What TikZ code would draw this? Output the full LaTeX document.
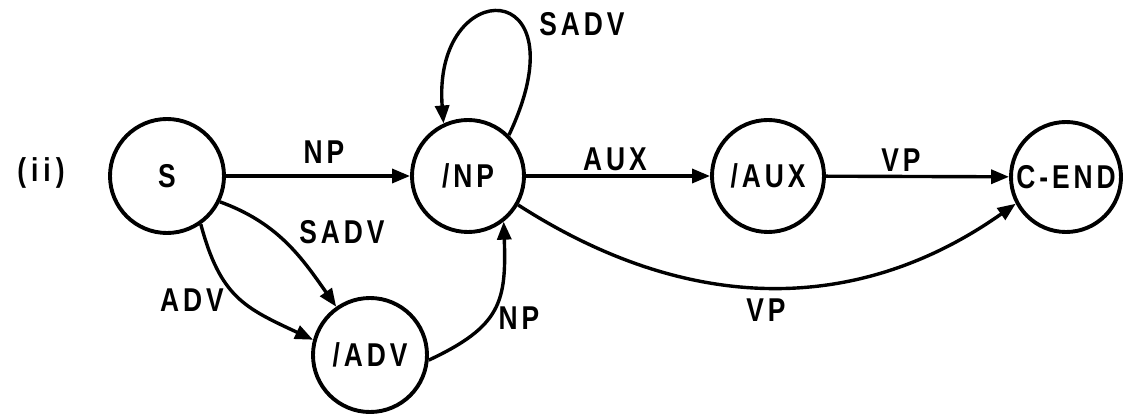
\documentclass[tikz,border=0pt]{standalone}
\usepackage{fontspec}
\setmainfont{Liberation Sans}[FakeStretch=0.8, LetterSpace=12]
\usetikzlibrary{arrows.meta}
\begin{document}
\begin{tikzpicture}[x=1pt,y=1pt,
  every node/.style={font=\fontsize{33}{36}\selectfont\bfseries},
  state/.style={circle, draw, line width=3.9pt, inner sep=0pt, minimum size=#1},
  conn/.style={line width=3.4pt, -{Triangle[length=18pt,width=14pt]}},
  lbl/.style={inner sep=0pt}]
\useasboundingbox (0,0) rectangle (1130,-414);
% states
\node[state=114pt] (s)    at (167,-176)  {S};
\node[state=112pt] (np)   at (468,-176)  {/NP};
\node[state=112pt] (aux)  at (768,-176)  {/AUX};
\node[state=110pt] (cend) at (1066,-177) {C-END};
\node[state=114pt] (adv)  at (370,-355)  {/ADV};
% labels
\node[lbl] (ii)    at (41,-173)  {(\kern5pt i\kern5pt i\kern5pt )};
\node[lbl] (lnp)   at (324,-152) {NP};
\node[lbl] (laux)  at (615,-159) {AUX};
\node[lbl] (lvp)   at (901,-160) {VP};
\node[lbl] (lsadv) at (582,-24)  {SADV};
\node[lbl] (lsadv2) at (342,-232) {SADV};
\node[lbl] (ladv)  at (192,-300) {ADV};
\node[lbl] (lnp2)  at (519,-318) {NP};
\node[lbl] (lvp2)  at (766,-310) {VP};
% connectors
\draw[conn] (s) -- (np);
\draw[conn] (np) -- (aux);
\draw[conn] (aux) -- (cend);
\draw[conn] (np.45) .. controls (585,26) and (432,26) .. (np.115);
\draw[conn] (s.-55) to[out=-75, in=155, looseness=1.2] (adv.165);
\draw[conn] (s.-26) to[out=-20, in=125] (adv.125);
\draw[conn] (adv.-5) to[out=25, in=-88, looseness=1.3] (np.-52);
\draw[conn] (np.-30) .. controls (689,-315) and (858,-315) .. (cend.-152);
\end{tikzpicture}
\end{document}
